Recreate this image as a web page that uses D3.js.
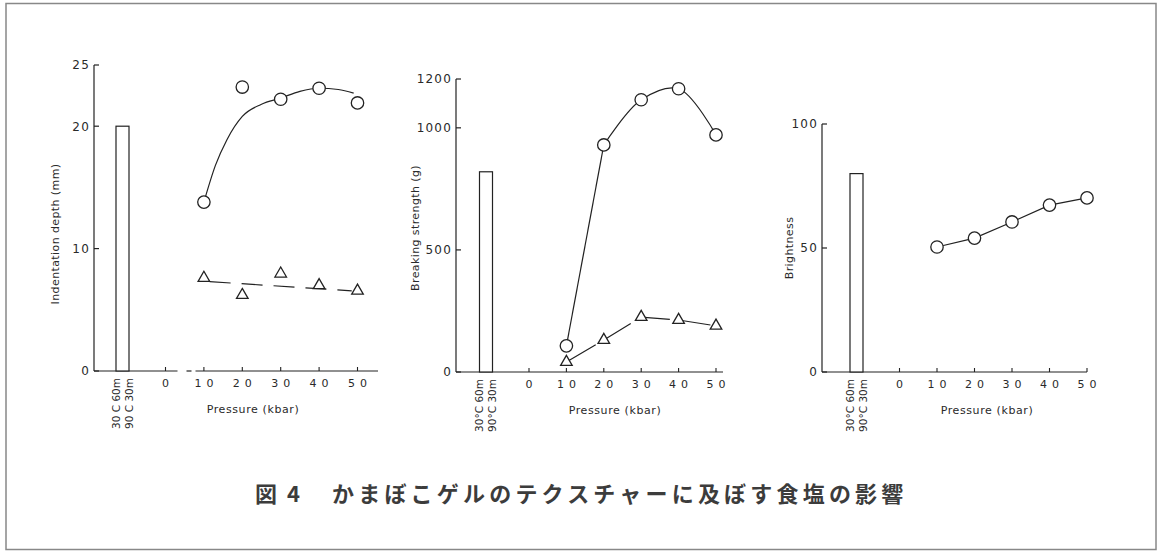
<!DOCTYPE html>
<html><head><meta charset="utf-8">
<script src="https://cdn.jsdelivr.net/npm/d3@7"></script>
<style>
html,body{margin:0;padding:0;background:#fff;}
svg{display:block;}
text{font-family:"DejaVu Sans","Liberation Sans",sans-serif;fill:#2a2a2a;}
</style></head>
<body>
<script>
// ---- data ----
const pressure = [10, 20, 30, 40, 50];
const xTickValues = [0, 10, 20, 30, 40, 50];
const xTickLabels = ["0", "10", "20", "30", "40", "50"];
const conditionLabelsA = ["30 C 60m", "90 C 30m"];
const conditionLabelsB = ["30°C 60m", "90°C 30m"];

// Indentation depth (mm)
const indentTicks = [0, 10, 20, 25];
const indentControl = 20;
const indentCircle = [13.8, 23.2, 22.2, 23.1, 21.9];
const indentTriangle = [7.6, 6.2, 7.95, 7.0, 6.55];
const indentCurveP = [10, 13, 16, 20, 25, 30, 35, 40, 45, 49];
const indentCurveV = [13.8, 16.8, 18.9, 20.8, 21.8, 22.3, 22.85, 23.1, 23.0, 22.7];
const indentTrendP = [11.5, 48.5];
const indentTrendV = [7.3, 6.55];

// Breaking strength (g)
const breakTicks = [0, 500, 1000, 1200];
const breakControl = 820;
const breakCircle = [107, 930, 1115, 1160, 971];
const breakTriangle = [41, 131, 225, 213, 189];

// Brightness
const brightTicks = [0, 50, 100];
const brightControl = 80;
const brightCircle = [50.4, 54, 60.5, 67.3, 70.2];

// ---- layout ----
const W = 1162, H = 552;
const svg = d3.select("body").append("svg").attr("width", W).attr("height", H);

svg.append("rect").attr("x", 6).attr("y", 3.5).attr("width", 1150).attr("height", 546)
  .attr("fill", "none").attr("stroke", "#888").attr("stroke-width", 1.5);

const ink = "#222";

const panels = [
  { yDomain: [0, 25], yRange: [371, 65], ticks: indentTicks, axisX: 94, xRange: [165.5, 357.5], axisEnd: 378,
    broken: true, control: indentControl, cond: conditionLabelsA,
    yLabel: "Indentation depth (mm)", yLabelX: 59, yLabelY: 234, pressX: 253,
    circles: indentCircle, triangles: indentTriangle,
    lines: [
      { p: indentTrendP, v: indentTrendV, curve: d3.curveLinear, dash: "21,11" },
      { p: indentCurveP, v: indentCurveV, curve: d3.curveMonotoneX, dash: null }
    ] },
  { yDomain: [0, 1200], yRange: [372, 79], ticks: breakTicks, axisX: 456, xRange: [529, 716], axisEnd: 723,
    broken: false, control: breakControl, cond: conditionLabelsB,
    yLabel: "Breaking strength (g)", yLabelX: 419, yLabelY: 228, pressX: 615,
    circles: breakCircle, triangles: breakTriangle,
    lines: [
      { p: pressure, v: breakTriangle, curve: d3.curveLinear, dash: "34,7" },
      { p: pressure.slice(0, 2), v: breakCircle.slice(0, 2), curve: d3.curveLinear, dash: null },
      { p: pressure.slice(1), v: breakCircle.slice(1), curve: d3.curveCatmullRom.alpha(0.5), dash: null }
    ] },
  { yDomain: [0, 100], yRange: [372, 124], ticks: brightTicks, axisX: 822, xRange: [899.5, 1087], axisEnd: 1087,
    broken: false, control: brightControl, cond: conditionLabelsB,
    yLabel: "Brightness", yLabelX: 793, yLabelY: 248, pressX: 987,
    circles: brightCircle, triangles: null,
    lines: [
      { p: pressure, v: brightCircle, curve: d3.curveLinear, dash: null }
    ] }
];

panels.forEach(P => {
  const g = svg.append("g");
  const y = d3.scaleLinear().domain(P.yDomain).range(P.yRange);
  const x = d3.scaleLinear().domain([0, 50]).range(P.xRange);
  const y0 = y(0);
  const x0 = x(0);

  // y axis line
  g.append("line").attr("x1", P.axisX).attr("x2", P.axisX).attr("y1", y0).attr("y2", y(P.yDomain[1]))
    .attr("stroke", ink).attr("stroke-width", 1.2);
  // y ticks (inward)
  P.ticks.forEach(t => {
    g.append("line").attr("x1", P.axisX).attr("x2", P.axisX + 5).attr("y1", y(t)).attr("y2", y(t))
      .attr("stroke", ink).attr("stroke-width", 1.2);
    g.append("text").attr("x", P.axisX - 4).attr("y", y(t)).attr("dy", "0.36em")
      .attr("text-anchor", "end").attr("font-size", 12).attr("letter-spacing", 1.2)
      .text(d3.format("d")(t));
  });

  // x axis line
  if (P.broken) {
    [[P.axisX, x0 + 12], [x0 + 21, x0 + 26], [x0 + 30, P.axisEnd]].forEach(s => {
      g.append("line").attr("x1", s[0]).attr("x2", s[1]).attr("y1", y0).attr("y2", y0)
        .attr("stroke", ink).attr("stroke-width", 1.2);
    });
  } else {
    g.append("line").attr("x1", P.axisX).attr("x2", P.axisEnd).attr("y1", y0).attr("y2", y0)
      .attr("stroke", ink).attr("stroke-width", 1.2);
  }
  // x ticks
  xTickValues.forEach((t, i) => {
    g.append("line").attr("x1", x(t)).attr("x2", x(t)).attr("y1", y0).attr("y2", y0 - 4)
      .attr("stroke", ink).attr("stroke-width", 1.1);
    const lab = xTickLabels[i];
    g.append("text").attr("x", x(t) + (lab.length > 1 ? 2.5 : 0)).attr("y", y0 + 16)
      .attr("text-anchor", "middle").attr("font-size", 11)
      .attr("letter-spacing", lab.length > 1 ? 5 : 0).text(lab);
  });
  g.append("text").attr("x", P.pressX).attr("y", y0 + 42).attr("text-anchor", "middle")
    .attr("font-size", 11).attr("letter-spacing", 0.6).text("Pressure (kbar)");

  // control bar
  const cx = d3.scalePoint().domain(P.cond).range([x0 - 49.5, x0 - 36.5]);
  g.append("rect").attr("x", cx(P.cond[0])).attr("width", cx(P.cond[1]) - cx(P.cond[0]))
    .attr("y", y(P.control)).attr("height", y0 - y(P.control))
    .attr("fill", "#fff").attr("stroke", ink).attr("stroke-width", 1.2);
  P.cond.forEach(c => {
    g.append("text").attr("transform", `translate(${cx(c)},${y0 + 7}) rotate(-90)`)
      .attr("dy", "0.36em").attr("text-anchor", "end").attr("font-size", 10.5).text(c);
  });

  // y label
  g.append("text").attr("transform", `translate(${P.yLabelX},${P.yLabelY}) rotate(-90)`)
    .attr("text-anchor", "middle").attr("font-size", 11).attr("letter-spacing", 0.4).text(P.yLabel);

  // lines
  P.lines.forEach(L => {
    const data = L.p.map((p, i) => [p, L.v[i]]);
    const line = d3.line().x(d => x(d[0])).y(d => y(d[1])).curve(L.curve);
    const path = g.append("path").attr("d", line(data)).attr("fill", "none")
      .attr("stroke", ink).attr("stroke-width", 1.2);
    if (L.dash) path.attr("stroke-dasharray", L.dash);
  });

  // markers
  if (P.triangles) {
    const tri = d3.symbol().type(d3.symbolTriangle).size(58);
    P.triangles.forEach((v, i) => {
      g.append("path").attr("d", tri()).attr("transform", `translate(${x(pressure[i])},${y(v)})`)
        .attr("fill", "#fff").attr("stroke", ink).attr("stroke-width", 1.3);
    });
  }
  P.circles.forEach((v, i) => {
    g.append("circle").attr("cx", x(pressure[i])).attr("cy", y(v)).attr("r", 6.2)
      .attr("fill", "#fff").attr("stroke", ink).attr("stroke-width", 1.3);
  });
});

// title
svg.append("text").attr("x", 255).attr("y", 502).attr("font-size", 22).attr("font-weight", "bold")
  .style("font-family", "'Noto Sans CJK JP', sans-serif").style("fill", "#3c3c3c").text("図");
svg.append("text").attr("x", 287).attr("y", 502).attr("font-size", 22).attr("font-weight", "bold")
  .style("font-family", "'Noto Sans CJK JP', sans-serif").style("fill", "#3c3c3c").text("4");
svg.append("text").attr("x", 332).attr("y", 502).attr("font-size", 22).attr("font-weight", "bold")
  .attr("letter-spacing", 4.2)
  .style("font-family", "'Noto Sans CJK JP', sans-serif").style("fill", "#3c3c3c")
  .text("かまぼこゲルのテクスチャーに及ぼす食塩の影響");
</script>
</body></html>
